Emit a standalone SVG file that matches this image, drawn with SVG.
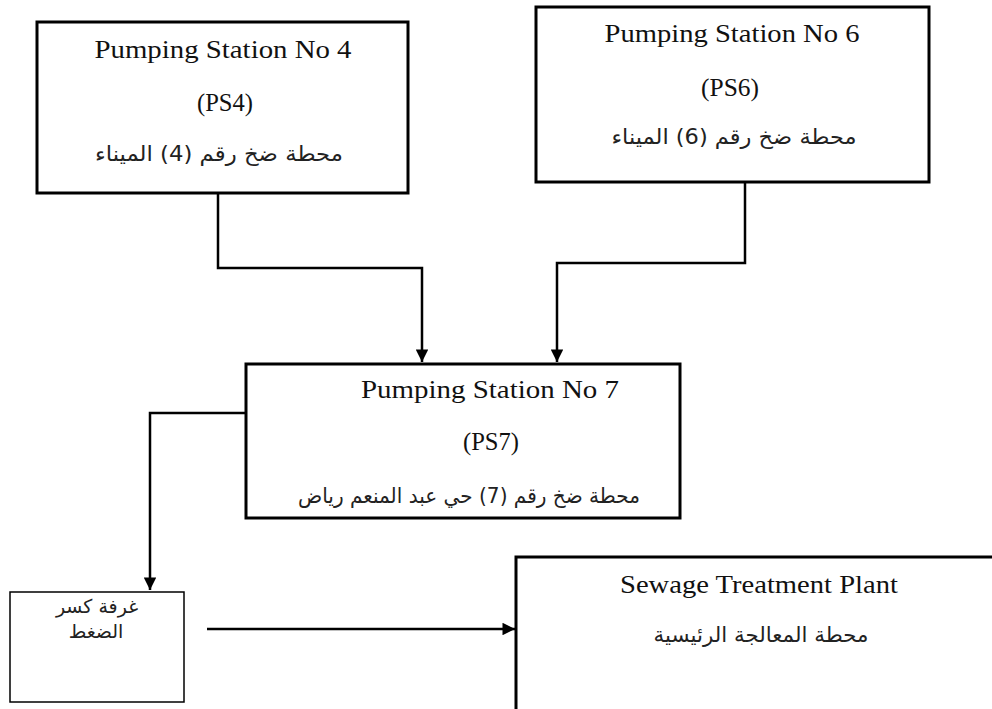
<svg xmlns="http://www.w3.org/2000/svg" width="992" height="709" viewBox="0 0 992 709">
<style>
.box{fill:#fff;stroke:#000;stroke-width:3}
.thin{fill:#fff;stroke:#000;stroke-width:1.5}
.en{font-family:"Liberation Serif","Times New Roman",serif;font-size:26px;fill:#111}
.ar{font-family:"DejaVu Sans","Liberation Sans",sans-serif;font-size:21px;fill:#222}
.ar2{font-family:"DejaVu Sans","Liberation Sans",sans-serif;font-size:19px;fill:#222}
.con{fill:none;stroke:#000;stroke-width:2.5}
</style>
<defs>
<marker id="ah" viewBox="0 0 10 10" refX="10" refY="5" markerWidth="5.5" markerHeight="5" markerUnits="strokeWidth" orient="auto">
<path d="M0,0 L10,5 L0,10 z" fill="#000"/>
</marker>
</defs>
<rect width="992" height="709" fill="#fff"/>
<g id="connectors">
<path class="con" d="M218,193 V268 H422 V362" marker-end="url(#ah)"/>
<path class="con" d="M745,182 V263 H557 V362" marker-end="url(#ah)"/>
<path class="con" d="M246,413 H150 V590" marker-end="url(#ah)"/>
<path class="con" d="M207,629 H515" marker-end="url(#ah)"/>
</g>
<g id="ps4">
<rect class="box" x="37" y="22" width="371" height="171"/>
<text class="en" x="223" y="58" text-anchor="middle" textLength="257" lengthAdjust="spacingAndGlyphs">Pumping Station No 4</text>
<text class="en" x="225" y="111" text-anchor="middle" textLength="56" lengthAdjust="spacingAndGlyphs">(PS4)</text>
<text class="ar" x="219" y="161" text-anchor="middle" direction="rtl" textLength="248" lengthAdjust="spacingAndGlyphs">محطة ضخ رقم (4) الميناء</text>
</g>
<g id="ps6">
<rect class="box" x="536" y="7" width="393" height="175"/>
<text class="en" x="732" y="42" text-anchor="middle" textLength="255" lengthAdjust="spacingAndGlyphs">Pumping Station No 6</text>
<text class="en" x="730" y="96" text-anchor="middle" textLength="58" lengthAdjust="spacingAndGlyphs">(PS6)</text>
<text class="ar" x="734" y="144" text-anchor="middle" direction="rtl" textLength="245" lengthAdjust="spacingAndGlyphs">محطة ضخ رقم (6) الميناء</text>
</g>
<g id="ps7">
<rect class="box" x="246" y="364" width="434" height="154"/>
<text class="en" x="490" y="398" text-anchor="middle" textLength="258" lengthAdjust="spacingAndGlyphs">Pumping Station No 7</text>
<text class="en" x="491" y="450" text-anchor="middle" textLength="56" lengthAdjust="spacingAndGlyphs">(PS7)</text>
<text class="ar" x="469" y="503" text-anchor="middle" direction="rtl" textLength="342" lengthAdjust="spacingAndGlyphs">محطة ضخ رقم (7)  حي عبد المنعم رياض</text>
</g>
<g id="breaker">
<rect class="thin" x="10" y="592" width="174" height="110"/>
<text class="ar2" x="97" y="613" text-anchor="middle" direction="rtl">غرفة كسر</text>
<text class="ar2" x="96" y="638" text-anchor="middle" direction="rtl">الضغط</text>
</g>
<g id="stp">
<rect class="box" x="516" y="557" width="500" height="200"/>
<text class="en" x="759" y="593" text-anchor="middle" textLength="278" lengthAdjust="spacingAndGlyphs">Sewage Treatment Plant</text>
<text class="ar" x="761" y="642" text-anchor="middle" direction="rtl" textLength="215" lengthAdjust="spacingAndGlyphs">محطة المعالجة الرئيسية</text>
</g>
</svg>
